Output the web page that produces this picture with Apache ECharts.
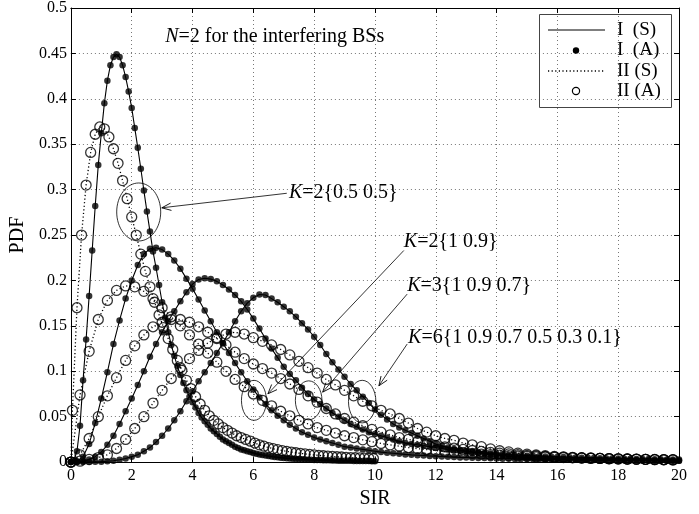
<!DOCTYPE html>
<html>
<head>
<meta charset="utf-8">
<title>PDF of SIR</title>
<script src="https://cdn.jsdelivr.net/npm/echarts@6/dist/echarts.min.js"></script>
<style>
  html, body { margin: 0; padding: 0; background: #fff; }
  #chart { width: 699px; height: 514px; }
</style>
</head>
<body>
<div id="chart"></div>
<script>
// SIR sampling grids
const sirA = [0,0.1,0.2,0.3,0.4,0.5,0.6,0.7,0.8,0.9,
  1,1.1,1.2,1.3,1.4,1.5,1.6,1.7,1.8,1.9,
  2,2.1,2.2,2.3,2.4,2.5,2.6,2.7,2.8,2.9,
  3,3.1,3.2,3.3,3.4,3.5,3.6,3.7,3.8,3.9,
  4,4.1,4.2,4.3,4.4,4.5,4.6,4.7,4.8,4.9,
  5,5.1,5.2,5.3,5.4,5.5,5.6,5.7,5.8,5.9,
  6,6.1,6.2,6.3,6.4,6.5,6.6,6.7,6.8,6.9,
  7,7.1,7.2,7.3,7.4,7.5,7.6,7.7,7.8,7.9,
  8,8.1,8.2,8.3,8.4,8.5,8.6,8.7,8.8,8.9,
  9,9.1,9.2,9.3,9.4,9.5,9.6,9.7,9.8,9.9,
  10];
const sirB = [0,0.05,0.2,0.35,0.5,0.65,0.8,0.95,1.1,1.25,1.4,
  1.55,1.7,1.85,2,2.15,2.3,2.45,2.6,2.75,2.9,
  3.05,3.2,3.35,3.5,3.65,3.8,3.95,4.1,4.25,4.4,
  4.55,4.7,4.85,5,5.15,5.3,5.45,5.6,5.75,5.9,
  6.05,6.2,6.35,6.5,6.65,6.8,6.95,7.1,7.25,7.4,
  7.55,7.7,7.85,8,8.15,8.3,8.45,8.6,8.75,8.9,
  9.05,9.2,9.35,9.5,9.65,9.8,9.95];
const sirC = [0,0.2,0.4,0.6,0.8,1,1.2,1.4,1.6,1.8,
  2,2.2,2.4,2.6,2.8,3,3.2,3.4,3.6,3.8,
  4,4.2,4.4,4.6,4.8,5,5.2,5.4,5.6,5.8,
  6,6.2,6.4,6.6,6.8,7,7.2,7.4,7.6,7.8,
  8,8.2,8.4,8.6,8.8,9,9.2,9.4,9.6,9.8,
  10,10.2,10.4,10.6,10.8,11,11.2,11.4,11.6,11.8,
  12,12.2,12.4,12.6,12.8,13,13.2,13.4,13.6,13.8,
  14,14.2,14.4,14.6,14.8,15,15.2,15.4,15.6,15.8,
  16,16.2,16.4,16.6,16.8,17,17.2,17.4,17.6,17.8,
  18,18.2,18.4,18.6,18.8,19,19.2,19.4,19.6,19.8,
  20];
const sirD = [0,0.3,0.6,0.9,1.2,1.5,1.8,2.1,2.4,2.7,
  3,3.3,3.6,3.9,4.2,4.5,4.8,5.1,5.4,5.7,
  6,6.3,6.6,6.9,7.2,7.5,7.8,8.1,8.4,8.7,
  9,9.3,9.6,9.9,10.2,10.5,10.8,11.1,11.4,11.7,
  12,12.3,12.6,12.9,13.2,13.5,13.8,14.1,14.4,14.7,
  15,15.3,15.6,15.9,16.2,16.5,16.8,17.1,17.4,17.7,
  18,18.3,18.6,18.9,19.2,19.5,19.8];

// method I, K=2{0.5 0.5}
const pdfI_K2a = [0,0.002,0.012,0.04,0.09,0.135,0.183,0.233,0.282,0.327,
  0.362,0.395,0.42,0.437,0.446,0.449,0.446,0.437,0.424,0.408,
  0.39,0.368,0.346,0.323,0.299,0.276,0.254,0.232,0.214,0.195,
  0.176,0.159,0.143,0.129,0.117,0.106,0.096,0.087,0.079,0.072,
  0.066,0.06,0.054,0.049,0.045,0.041,0.037,0.034,0.031,0.028,
  0.025,0.023,0.021,0.019,0.017,0.0155,0.014,0.013,0.012,0.011,
  0.01,0.0092,0.0085,0.0078,0.0072,0.0066,0.0061,0.0057,0.0053,0.0049,
  0.0046,0.0043,0.004,0.0037,0.0035,0.0033,0.0031,0.0029,0.0027,0.0026,
  0.0024,0.0023,0.0022,0.0021,0.002,0.0019,0.0018,0.0017,0.0016,0.0015,
  0.0015,0.0014,0.0014,0.0013,0.0013,0.0012,0.0012,0.0011,0.0011,0.001,
  0.001];
// method I, K=2{1 0.9}
const pdfI_K2b = [0,0.001,0.006,0.02,0.043,0.07,0.099,0.13,0.156,0.18,
  0.2,0.217,0.229,0.235,0.236,0.234,0.229,0.222,0.213,0.202,
  0.191,0.179,0.167,0.155,0.143,0.131,0.12,0.109,0.099,0.089,
  0.08,0.071,0.064,0.057,0.051,0.046,0.041,0.037,0.033,0.03,
  0.027,0.025,0.023,0.021,0.019,0.017,0.016,0.015,0.014,0.013,
  0.012,0.011,0.0103,0.0097,0.0091,0.0085,0.008,0.0076,0.0072,0.0068,
  0.0064,0.0061,0.0058,0.0055,0.0052,0.005,0.0048,0.0046,0.0044,0.0042,
  0.004,0.0038,0.0037,0.0035,0.0034,0.0033,0.0032,0.0031,0.003,0.0029,
  0.0028,0.0027,0.0026,0.0025,0.0024,0.0024,0.0023,0.0022,0.0022,0.0021,
  0.002,0.002,0.0019,0.0019,0.0018,0.0018,0.0017,0.0017,0.0016,0.0016,
  0.0015];
// method I, K=3{1 0.9 0.7}
const pdfI_K3 = [0,0,0.001,0.003,0.006,0.011,0.019,0.029,0.042,0.056,
  0.07,0.085,0.1,0.116,0.13,0.143,0.155,0.166,0.177,0.187,
  0.196,0.201,0.2025,0.2015,0.199,0.195,0.19,0.184,0.177,0.168,
  0.158,0.147,0.136,0.125,0.115,0.105,0.097,0.09,0.082,0.075,
  0.069,0.064,0.059,0.054,0.05,0.046,0.042,0.039,0.036,0.033,
  0.031,0.029,0.027,0.025,0.023,0.021,0.02,0.019,0.018,0.017,
  0.016,0.015,0.014,0.013,0.0125,0.012,0.0113,0.0107,0.0101,0.0096,
  0.0091,0.0086,0.0082,0.0078,0.0074,0.0071,0.0068,0.0065,0.0062,0.0059,
  0.0057,0.0055,0.0053,0.0051,0.0049,0.0047,0.0045,0.0043,0.0042,0.004,
  0.0039,0.0038,0.0036,0.0035,0.0034,0.0033,0.0032,0.0031,0.003,0.0029,
  0.0028];
// method I, K=6{1 0.9 0.7 0.5 0.3 0.1}
const pdfI_K6 = [0,0,0,0,0.0003,0.0005,0.001,0.0015,0.0025,0.004,
  0.006,0.008,0.012,0.016,0.022,0.029,0.037,0.046,0.056,0.067,
  0.078,0.089,0.099,0.109,0.12,0.131,0.143,0.155,0.166,0.175,
  0.181,0.1845,0.184,0.18,0.176,0.171,0.166,0.16,0.153,0.146,
  0.138,0.129,0.119,0.11,0.102,0.094,0.086,0.079,0.072,0.065,
  0.058,0.052,0.047,0.042,0.038,0.035,0.032,0.029,0.026,0.023,
  0.02,0.018,0.016,0.0145,0.013,0.012,0.011,0.01,0.0092,0.0085,
  0.0078,0.0072,0.0066,0.0061,0.0057,0.0053,0.0049,0.0046,0.0043,0.004,
  0.0037,0.0035,0.0033,0.0031,0.0029,0.0027,0.0026,0.0025,0.0024,0.0023,
  0.0022,0.0021,0.002,0.0019,0.0018,0.0017,0.0016,0.0016,0.0015,0.0015,
  0.0014];

// method II, K=2{0.5 0.5}
const pdfII_K2a = [0,0.057,0.17,0.25,0.305,0.341,0.361,0.369,0.367,0.358,0.345,
  0.329,0.31,0.29,0.27,0.25,0.229,0.21,0.193,0.176,0.162,
  0.148,0.136,0.124,0.112,0.101,0.09,0.081,0.072,0.064,0.057,
  0.051,0.046,0.042,0.038,0.035,0.032,0.029,0.027,0.025,0.023,
  0.021,0.019,0.0175,0.016,0.0148,0.0137,0.0127,0.0118,0.011,0.0103,
  0.0096,0.009,0.0084,0.0079,0.0074,0.007,0.0066,0.0062,0.0059,0.0056,
  0.0053,0.005,0.0048,0.0046,0.0044,0.0042,0.004];
// method II, K=2{1 0.9}
const pdfII_K2b = [0,0.074,0.122,0.157,0.178,0.189,0.194,0.193,0.188,0.18,
  0.17,0.16,0.15,0.14,0.13,0.12,0.11,0.1,0.091,0.083,
  0.075,0.068,0.062,0.056,0.051,0.046,0.042,0.038,0.035,0.032,
  0.029,0.027,0.0245,0.0225,0.0205,0.019,0.0175,0.016,0.0148,0.0137,
  0.0127,0.0118,0.011,0.0102,0.0095,0.0088,0.0082,0.0077,0.0072,0.0067,
  0.0063,0.0059,0.0056,0.0053,0.005,0.0047,0.0045,0.0042,0.004,0.0038,
  0.0036,0.0034,0.0033,0.0031,0.003,0.0028,0.0027];
// method II, K=3{1 0.9 0.7}
const pdfII_K3 = [0,0.008,0.026,0.05,0.073,0.093,0.112,0.128,0.14,0.149,
  0.154,0.157,0.157,0.154,0.149,0.143,0.136,0.129,0.121,0.114,
  0.108,0.103,0.098,0.092,0.086,0.08,0.073,0.066,0.059,0.053,
  0.048,0.044,0.04,0.036,0.033,0.03,0.027,0.025,0.0225,0.0203,
  0.0183,0.0167,0.0153,0.014,0.0128,0.0117,0.0107,0.0098,0.009,0.0082,
  0.0075,0.0069,0.0063,0.0058,0.0054,0.005,0.0046,0.0043,0.004,0.0037,
  0.0035,0.0033,0.0031,0.0029,0.0027,0.0025,0.0024];
// method II, K=6{1 0.9 0.7 0.5 0.3 0.1}
const pdfII_K6 = [0,0.001,0.003,0.005,0.008,0.015,0.025,0.037,0.05,0.065,
  0.079,0.092,0.104,0.114,0.123,0.131,0.137,0.141,0.143,0.141,
  0.137,0.133,0.129,0.124,0.118,0.111,0.104,0.098,0.091,0.085,
  0.079,0.073,0.067,0.062,0.057,0.053,0.048,0.043,0.037,0.033,
  0.029,0.026,0.024,0.021,0.019,0.017,0.0145,0.0125,0.0112,0.0098,
  0.0087,0.0078,0.007,0.0063,0.0058,0.0053,0.0049,0.0045,0.0042,0.0039,
  0.0036,0.0034,0.0032,0.003,0.0028,0.0027,0.0025];

const legendNames = ['I  (S)', 'I  (A)', 'II (S)', 'II (A)'];

const serif = '"Liberation Serif", "Times New Roman", serif';
const chart = echarts.init(document.getElementById('chart'));

function pairs(xs, ys) {
  return xs.map((x, i) => [x, ys[i]]);
}

const curvesI = [pairs(sirA, pdfI_K2a), pairs(sirC, pdfI_K2b), pairs(sirC, pdfI_K3), pairs(sirC, pdfI_K6)];
const curvesII = [pairs(sirB, pdfII_K2a), pairs(sirD, pdfII_K2b), pairs(sirD, pdfII_K3), pairs(sirD, pdfII_K6)];

let series = [];
curvesI.forEach(d => series.push({
  name: legendNames[0], type: 'line', data: d, symbol: 'none', silent: true, z: 3,
  lineStyle: { color: '#000', width: 1.1 }
}));
curvesII.forEach(d => series.push({
  name: legendNames[2], type: 'line', data: d, symbol: 'none', silent: true, z: 3,
  lineStyle: { color: '#000', width: 1.3, type: [1.2, 2.4] }
}));
curvesI.forEach(d => series.push({
  name: legendNames[1], type: 'scatter', data: d, symbol: 'circle', symbolSize: 6.5, silent: true, z: 4,
  itemStyle: { color: '#000' }
}));
curvesII.forEach(d => series.push({
  name: legendNames[3], type: 'scatter', data: d, symbol: 'circle', symbolSize: 10, silent: true, z: 5,
  itemStyle: { color: 'rgba(0,0,0,0)', borderColor: '#000', borderWidth: 1.3 }
}));

const axisLine = { onZero: false, lineStyle: { color: '#000', width: 1 } };
const axisTick = { inside: true, length: 5, lineStyle: { color: '#000', width: 1 } };
const gridLine = { show: true, lineStyle: { color: '#777', width: 1, type: [1, 3] } };

const option = {
  animation: false,
  backgroundColor: '#fff',
  grid: { left: 67, right: 20, top: 6, bottom: 44 },
  xAxis: [{
    type: 'value', min: 0, max: 20, interval: 2,
    name: 'SIR', nameLocation: 'middle', nameGap: 20,
    nameTextStyle: { fontFamily: serif, fontSize: 20, color: '#000' },
    axisLine: axisLine, axisTick: axisTick,
    axisLabel: { fontFamily: serif, fontSize: 16, color: '#000', margin: 6 },
    splitLine: gridLine
  }, {
    type: 'value', position: 'top', min: 0, max: 20, interval: 2,
    axisLine: axisLine, axisTick: axisTick,
    axisLabel: { show: false }, splitLine: { show: false }
  }],
  yAxis: [{
    type: 'value', min: 0, max: 0.5, interval: 0.05,
    name: 'PDF', nameLocation: 'middle', nameGap: 37,
    nameTextStyle: { fontFamily: serif, fontSize: 20, color: '#000' },
    axisLine: axisLine, axisTick: axisTick,
    axisLabel: { fontFamily: serif, fontSize: 16, color: '#000', margin: 4 },
    splitLine: gridLine
  }, {
    type: 'value', position: 'right', min: 0, max: 0.5, interval: 0.05,
    axisLine: axisLine, axisTick: axisTick,
    axisLabel: { show: false }, splitLine: { show: false }
  }],
  series: series
};
chart.setOption(option);

// annotations, placed in data coordinates
const px = p => chart.convertToPixel({ seriesIndex: 0 }, p);

const notes = [
  { at: [3.1, 0.468], text: '{i|N}=2 for the interfering BSs' },
  { at: [7.17, 0.297], text: '{i|K}=2{0.5 0.5}' },
  { at: [10.95, 0.243], text: '{i|K}=2{1 0.9}' },
  { at: [11.06, 0.194], text: '{i|K}=3{1 0.9 0.7}' },
  { at: [11.09, 0.137], text: '{i|K}=6{1 0.9 0.7 0.5 0.3 0.1}' }
];
const ellipses = [
  { c: [2.23, 0.2754], rx: 22, ry: 29 },
  { c: [6.02, 0.068], rx: 12.5, ry: 20 },
  { c: [7.82, 0.068], rx: 13.3, ry: 19.5 },
  { c: [9.58, 0.0666], rx: 13.7, ry: 21.3 }
];
const arrows = [
  { from: [7.1, 0.296], to: [2.99, 0.28] },
  { from: [10.95, 0.233], to: [6.48, 0.0752] },
  { from: [11.06, 0.185], to: [8.28, 0.077] },
  { from: [11.06, 0.13], to: [10.13, 0.084] }
];

const g = [];
notes.forEach(n => {
  const p = px(n.at);
  g.push({
    type: 'text', x: p[0], y: p[1], z: 10, silent: true,
    style: {
      text: n.text, fontFamily: serif, fontSize: 20, fill: '#000',
      align: 'left', verticalAlign: 'middle',
      rich: { i: { fontStyle: 'italic', fontFamily: serif, fontSize: 20 } }
    }
  });
});
ellipses.forEach(e => {
  const p = px(e.c);
  g.push({
    type: 'ellipse', z: 10, silent: true,
    shape: { cx: p[0], cy: p[1], rx: e.rx, ry: e.ry },
    style: { fill: 'none', stroke: '#000', lineWidth: 0.8 }
  });
});
arrows.forEach(a => {
  const s = px(a.from), t = px(a.to);
  const ang = Math.atan2(t[1] - s[1], t[0] - s[0]);
  const len = 10, half = 0.38;
  const w1 = [t[0] - len * Math.cos(ang - half), t[1] - len * Math.sin(ang - half)];
  const w2 = [t[0] - len * Math.cos(ang + half), t[1] - len * Math.sin(ang + half)];
  g.push({
    type: 'line', z: 10, silent: true,
    shape: { x1: s[0], y1: s[1], x2: t[0], y2: t[1] },
    style: { stroke: '#000', lineWidth: 0.8 }
  });
  g.push({
    type: 'polyline', z: 10, silent: true,
    shape: { points: [w1, t, w2] },
    style: { stroke: '#000', fill: 'none', lineWidth: 0.9 }
  });
});

// legend box (MATLAB style)
const lx = 539.5, ly = 14.5, rows = [30, 50.5, 71, 91];
g.push({ type: 'rect', z: 10, silent: true, shape: { x: lx, y: ly, width: 132, height: 93 },
  style: { fill: 'none', stroke: '#444', lineWidth: 1 } });
g.push({ type: 'line', z: 10, silent: true, shape: { x1: 548, y1: rows[0], x2: 605, y2: rows[0] },
  style: { stroke: '#000', lineWidth: 1.1 } });
g.push({ type: 'circle', z: 10, silent: true, shape: { cx: 576, cy: rows[1], r: 3.2 },
  style: { fill: '#000' } });
g.push({ type: 'line', z: 10, silent: true, shape: { x1: 548, y1: rows[2], x2: 605, y2: rows[2] },
  style: { stroke: '#000', lineWidth: 1.3, lineDash: [1.2, 2.4] } });
g.push({ type: 'circle', z: 10, silent: true, shape: { cx: 576, cy: rows[3], r: 3.6 },
  style: { fill: 'none', stroke: '#000', lineWidth: 1.2 } });
legendNames.forEach((name, i) => {
  g.push({
    type: 'text', x: 617, y: rows[i], z: 10, silent: true,
    style: { text: name, fontFamily: serif, fontSize: 19, fill: '#000', align: 'left', verticalAlign: 'middle' }
  });
});

chart.setOption({ graphic: g });
</script>
</body>
</html>
